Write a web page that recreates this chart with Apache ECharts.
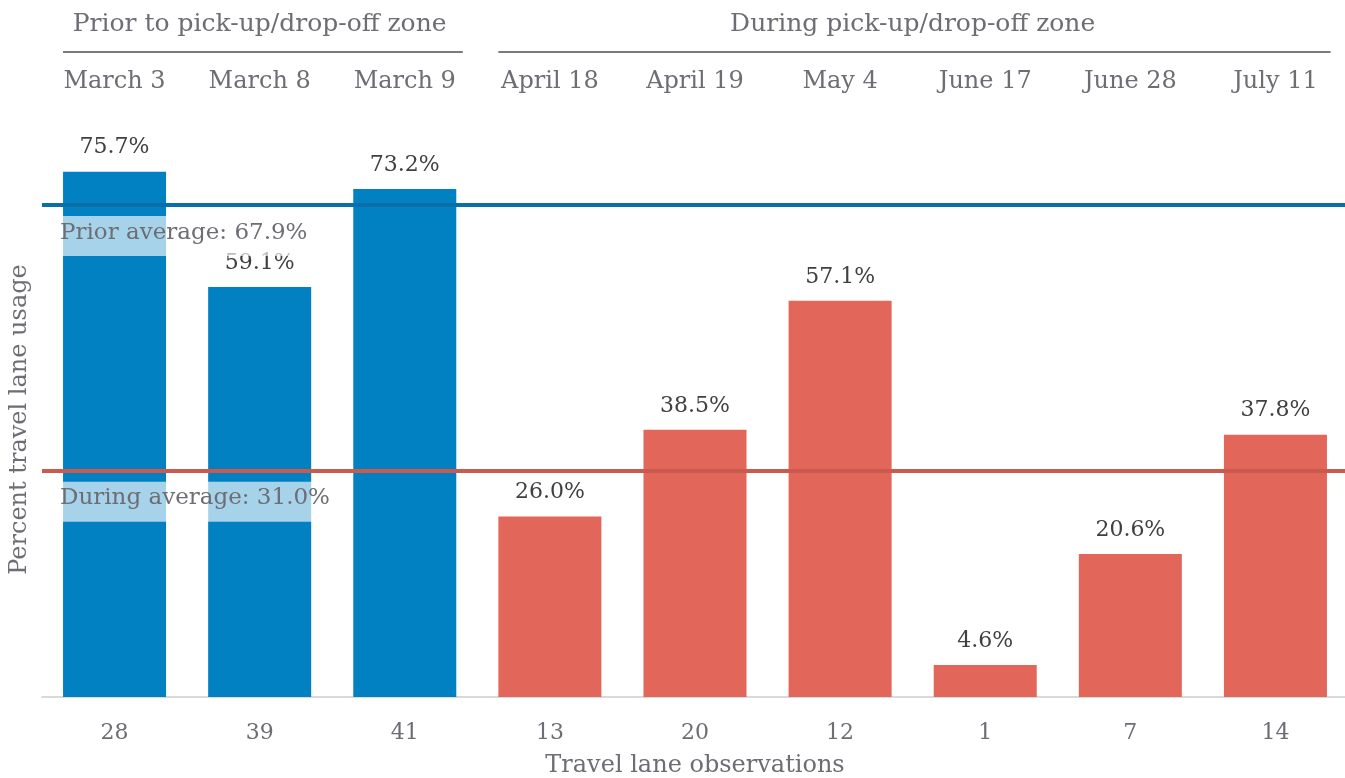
<!DOCTYPE html>
<html><head><meta charset="utf-8">
<script src="https://cdn.jsdelivr.net/npm/echarts@6/dist/echarts.min.js"></script>
<style>html,body{margin:0;padding:0;background:#fff}#c{width:1345px;height:778px}</style>
</head><body><div id="c"></div>
<script>
const dates = ['March 3','March 8','March 9','April 18','April 19','May 4','June 17','June 28','July 11'];
const observations = ['28','39','41','13','20','12','1','7','14'];
const usage = [75.7, 59.1, 73.2, 26.0, 38.5, 57.1, 4.6, 20.6, 37.8];
const period = ['prior','prior','prior','during','during','during','during','during','during'];
const groupHeaders = ['Prior to pick-up/drop-off zone', 'During pick-up/drop-off zone'];
const avgLineValues = [70.9, 32.6];
const avgLabels = ['Prior average: 67.9%', 'During average: 31.0%'];

const FONT = 'DejaVu Serif';
const GRAY = '#6d6d74';
const BLUE = '#0281c2', RED = '#e3665a';
const chart = echarts.init(document.getElementById('c'));
const option = {
  animation: false,
  textStyle: {fontFamily: FONT},
  grid: {left: 42, right: -3, top: 110, bottom: 81, containLabel: false, outerBoundsMode: 'none'},
  xAxis: [{
    type: 'category', data: observations, position: 'bottom',
    axisLine: {lineStyle: {color: '#d9d9d9', width: 2}}, axisTick: {show: false},
    axisLabel: {color: GRAY, fontSize: 22, margin: 25, fontFamily: FONT},
    name: 'Travel lane observations', nameLocation: 'middle', nameGap: 57,
    nameTextStyle: {color: GRAY, fontSize: 24, fontFamily: FONT}
  }, {
    type: 'category', data: dates, position: 'top',
    axisLine: {show: false}, axisTick: {show: false},
    axisLabel: {color: GRAY, fontSize: 24, margin: 16, fontFamily: FONT}
  }],
  yAxis: {
    type: 'value', min: 0, max: 84.6, show: true,
    axisLine: {show: false}, axisTick: {show: false}, axisLabel: {show: false}, splitLine: {show: false},
    name: 'Percent travel lane usage', nameLocation: 'middle', nameGap: 10,
    nameTextStyle: {color: GRAY, fontSize: 24, fontFamily: FONT, padding: [0, 0, 0, -32]}
  },
  series: [{
    type: 'bar', barWidth: '71%',
    data: usage.map((v, i) => ({value: v, itemStyle: {color: period[i] === 'prior' ? BLUE : RED}})),
    label: {show: true, position: 'top', distance: 13, formatter: p => p.value.toFixed(1) + '%',
      color: '#404040', fontSize: 22, fontFamily: FONT},
    markLine: {
      symbol: 'none', silent: true, z: 10,
      data: [
        {yAxis: avgLineValues[0], lineStyle: {color: '#0a6fa8', width: 4, type: 'solid'},
         label: {formatter: avgLabels[0]}},
        {yAxis: avgLineValues[1], lineStyle: {color: '#c95a4d', width: 4, type: 'solid'},
         label: {formatter: avgLabels[1]}}
      ],
      label: {show: true, position: 'insideStartBottom', distance: [13, 11], color: GRAY, fontSize: 23,
        fontFamily: FONT, backgroundColor: 'rgba(255,255,255,0.65)', padding: [5, 4, 12, 5]}
    }
  }]
};
chart.setOption(option);

function drawHeaders() {
  const c = i => chart.convertToPixel({xAxisIndex: 0}, i);
  const step = c(1) - c(0);
  const groups = [[0, 2], [3, 8]];
  const ext = [0.4, 0.38];
  const els = [];
  groups.forEach((g, k) => {
    const x1 = c(g[0]) - step * 0.355, x2 = c(g[1]) + step * ext[k];
    els.push({type: 'line', shape: {x1: x1, y1: 52, x2: x2, y2: 52}, style: {stroke: '#7a7a7a', lineWidth: 2}});
    els.push({type: 'text', x: (c(g[0]) + c(g[1])) / 2, y: 24,
      style: {text: groupHeaders[k], fill: GRAY, font: '25px "' + FONT + '"', textAlign: 'center', textVerticalAlign: 'middle'}});
  });
  chart.setOption({graphic: els});
}
drawHeaders();
</script></body></html>
